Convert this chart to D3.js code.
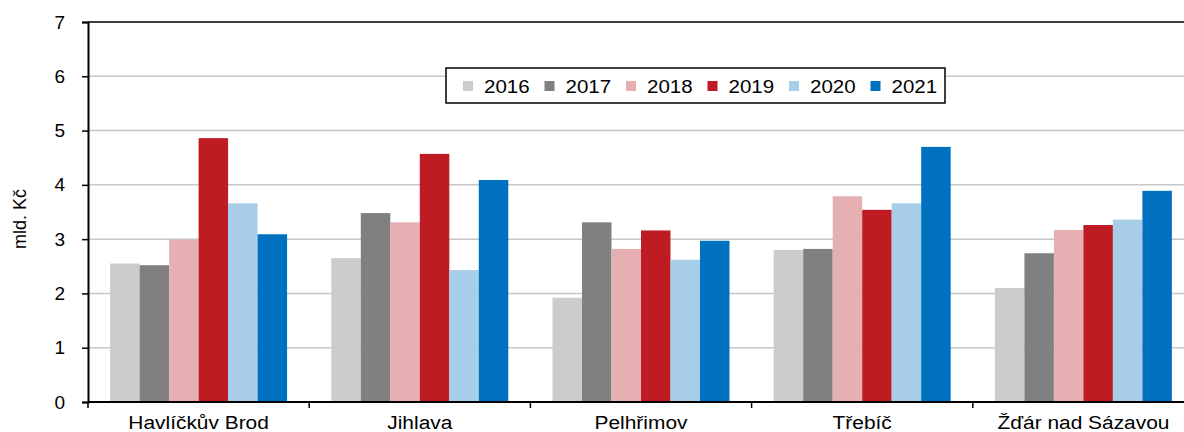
<!DOCTYPE html>
<html>
<head>
<meta charset="utf-8">
<script src="https://cdn.jsdelivr.net/npm/d3@7"></script>
<style>
  html, body { margin: 0; padding: 0; background: #fff; }
  svg { display: block; font-family: "Liberation Sans", Arial, sans-serif; }
</style>
</head>
<body>
<div id="chart"></div>
<script>
// data
const districts = ["Havlíčkův Brod", "Jihlava", "Pelhřimov", "Třebíč", "Žďár nad Sázavou"];
const years = ["2016", "2017", "2018", "2019", "2020", "2021"];
const yearColors = ["#cccccc", "#808080", "#e6afb2", "#be1b23", "#a8cde8", "#0071bf"];
const v2016 = [2.55, 2.65, 1.92, 2.80, 2.10];
const v2017 = [2.52, 3.48, 3.31, 2.82, 2.74];
const v2018 = [2.99, 3.31, 2.82, 3.79, 3.17];
const v2019 = [4.86, 4.57, 3.16, 3.54, 3.26];
const v2020 = [3.66, 2.43, 2.62, 3.66, 3.36];
const v2021 = [3.09, 4.09, 2.97, 4.70, 3.89];
const yTicks = [0, 1, 2, 3, 4, 5, 6, 7];
const yLabel = "mld. Kč";

const series = [v2016, v2017, v2018, v2019, v2020, v2021];

const W = 1184, H = 432;
// plot area (right end runs past the picture edge, as in the source)
const pL = 88, pR = 1194, pT = 22, pB = 402;

const svg = d3.select("#chart").append("svg")
  .attr("width", W).attr("height", H);

const x = d3.scaleBand().domain(districts).range([pL, pR]);
const xi = d3.scaleBand().domain(years)
  .range([x.bandwidth() * 0.1, x.bandwidth() * 0.9]);
const y = d3.scaleLinear().domain([0, 7]).range([pB, pT]);

// gridlines
svg.append("g")
  .selectAll("line")
  .data(yTicks.filter(d => d > 0 && d < 7))
  .join("line")
  .attr("x1", pL).attr("x2", pR)
  .attr("y1", d => y(d)).attr("y2", d => y(d))
  .attr("stroke", "#c8c8c8").attr("stroke-width", 1.5);

// bars
const groups = svg.append("g")
  .selectAll("g")
  .data(districts)
  .join("g")
  .attr("transform", d => `translate(${x(d)},0)`);

groups.selectAll("rect")
  .data((d, i) => years.map((yr, j) => ({ yr, v: series[j][i], c: yearColors[j] })))
  .join("rect")
  .attr("x", d => xi(d.yr))
  .attr("width", xi.bandwidth())
  .attr("y", d => y(d.v))
  .attr("height", d => y(0) - y(d.v))
  .attr("fill", d => d.c);

// top border line at 7
svg.append("line")
  .attr("x1", pL).attr("x2", pR)
  .attr("y1", y(7)).attr("y2", y(7))
  .attr("stroke", "#000").attr("stroke-width", 1.5);

// y axis
const yAxis = svg.append("g")
  .attr("transform", `translate(${pL},0)`)
  .call(d3.axisLeft(y).tickValues(yTicks).tickSize(6).tickPadding(17).tickFormat(d3.format("d")));
yAxis.select(".domain").attr("stroke", "#000").attr("stroke-width", 2);
yAxis.selectAll(".tick line").attr("stroke", "#000").attr("stroke-width", 1.5);
yAxis.selectAll(".tick text")
  .attr("fill", "#000").style("font-size", "19px")
  .attr("font-family", "Liberation Sans, Arial, sans-serif");

// x axis (labels a bit wider, like the source)
const xAxis = svg.append("g")
  .attr("transform", `translate(0,${pB})`)
  .call(d3.axisBottom(x).tickSize(0).tickPadding(0));
xAxis.select(".domain").remove();
xAxis.selectAll(".tick text")
  .attr("y", 0).attr("dy", 0)
  .attr("transform", "translate(0,27) scale(1.1,1)")
  .attr("fill", "#000").style("font-size", "19px")
  .attr("font-family", "Liberation Sans, Arial, sans-serif");
svg.append("line")
  .attr("x1", pL).attr("x2", pR)
  .attr("y1", pB).attr("y2", pB)
  .attr("stroke", "#000").attr("stroke-width", 2);
svg.append("g")
  .selectAll("line")
  .data(districts)
  .join("line")
  .attr("x1", d => x(d)).attr("x2", d => x(d))
  .attr("y1", pB).attr("y2", pB + 6)
  .attr("stroke", "#000").attr("stroke-width", 1.5);

// y label
svg.append("text")
  .attr("transform", `translate(26,${(pT + pB) / 2 + 7}) rotate(-90)`)
  .attr("text-anchor", "middle")
  .style("font-size", "18px")
  .text(yLabel);

// legend
const lg = svg.append("g").attr("transform", "translate(446,68)");
lg.append("rect")
  .attr("width", 499).attr("height", 35)
  .attr("fill", "#fff").attr("stroke", "#000").attr("stroke-width", 1.5);
const items = lg.selectAll("g")
  .data(years)
  .join("g")
  .attr("transform", (d, i) => `translate(${17 + i * 81.5},0)`);
items.append("rect")
  .attr("y", 13).attr("width", 10).attr("height", 10)
  .attr("fill", (d, i) => yearColors[i]);
items.append("text")
  .attr("transform", "translate(21,24.5) scale(1.08,1)")
  .style("font-size", "19px")
  .text(d => d);
</script>
</body>
</html>
